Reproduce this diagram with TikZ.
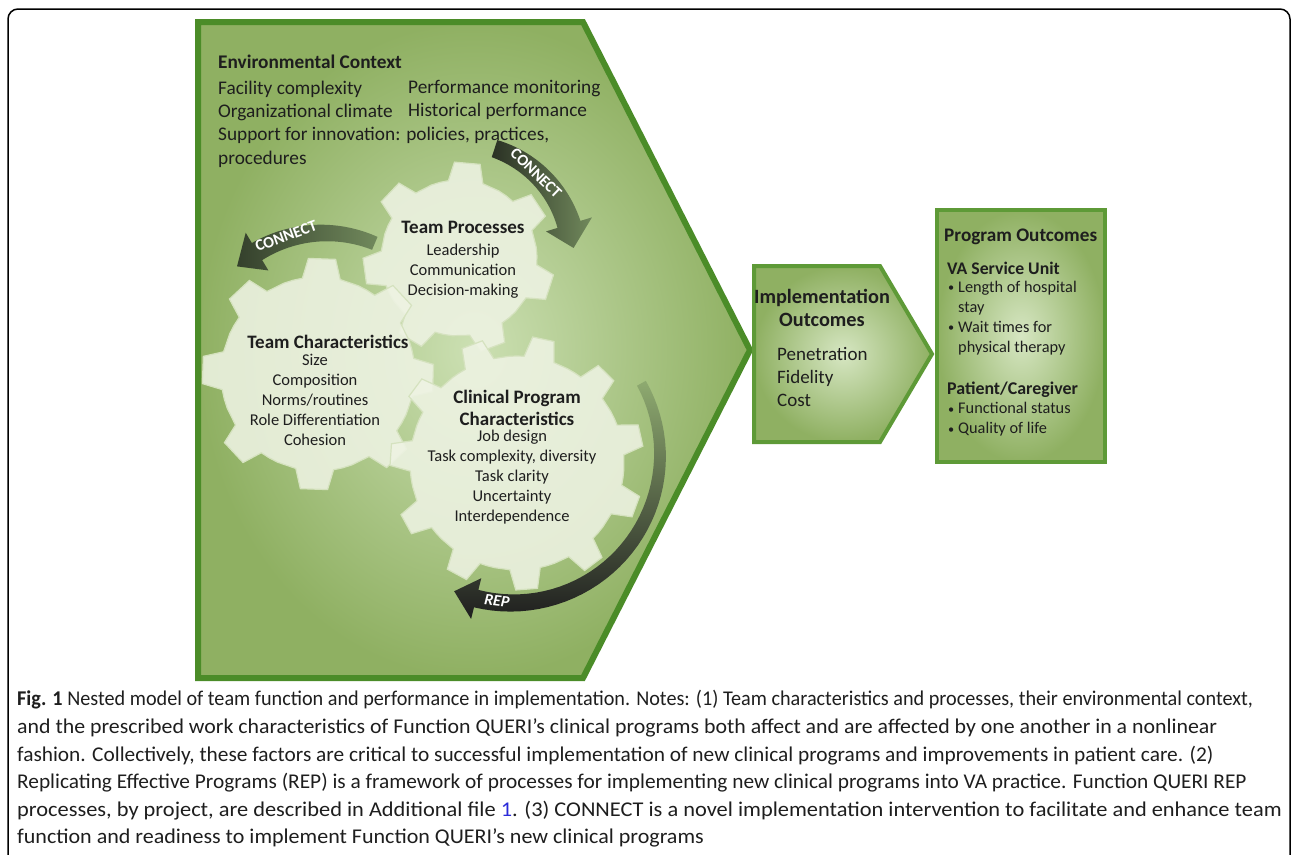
\documentclass[tikz,border=0pt]{standalone}
\usepackage{fontspec}
\setmainfont{Carlito}
\definecolor{bigin}{HTML}{CCE0B3}
\definecolor{bigout}{HTML}{8FB062}
\definecolor{bordergreen}{HTML}{4B8C28}
\definecolor{smallborder}{HTML}{5E9A37}
\definecolor{gearfill}{HTML}{EEF3E3}
\definecolor{gearedge}{HTML}{D5E2BF}
\definecolor{capblue}{HTML}{2B2BD9}
\definecolor{txt}{HTML}{1E1E1E}
\definecolor{arrdark}{HTML}{2A3124}
\definecolor{arrmid}{HTML}{34402C}
\definecolor{arrlight}{HTML}{71895C}
\definecolor{arrgreen}{HTML}{8EAA70}
\newcommand\blt{\makebox[10pt][l]{\raisebox{0.6pt}{\scalebox{0.75}{•}}}}
\newcommand\gearpath[6]{% cx cy N Ri Ro offset
  \pgfmathsetmacro\gp{360/#3}%
  \pgfmathtruncatemacro\gN{#3-1}%
  \filldraw[fill=gearfill, fill opacity=0.88, draw=gearedge, line width=1.2pt] ({#1+#4*cos(#6-0.5*\gp)},{#2+#4*sin(#6-0.5*\gp)})
    \foreach \k in {0,...,\gN}{
      -- ({#1+#4*cos(#6+\k*\gp-0.25*\gp)},{#2+#4*sin(#6+\k*\gp-0.25*\gp)})
      -- ({#1+#5*cos(#6+\k*\gp-0.15*\gp)},{#2+#5*sin(#6+\k*\gp-0.15*\gp)})
      -- ({#1+#5*cos(#6+\k*\gp+0.15*\gp)},{#2+#5*sin(#6+\k*\gp+0.15*\gp)})
      -- ({#1+#4*cos(#6+\k*\gp+0.25*\gp)},{#2+#4*sin(#6+\k*\gp+0.25*\gp)})
      -- ({#1+#4*cos(#6+\k*\gp+0.375*\gp)},{#2+#4*sin(#6+\k*\gp+0.375*\gp)})
      -- ({#1+#4*cos(#6+\k*\gp+0.5*\gp)},{#2+#4*sin(#6+\k*\gp+0.5*\gp)})
    } -- cycle;
}
\newcommand\arrowpath[9]{% cx cy r a1 a2 atip w1 w2 hw
  plot[domain=#4:#5, samples=40, variable=\t]
    ({#1+(#3+#7+(#8-#7)*(\t-(#4))/((#5)-(#4)))*cos(\t)},{#2+(#3+#7+(#8-#7)*(\t-(#4))/((#5)-(#4)))*sin(\t)})
  -- ({#1+(#3+#9)*cos(#5)},{#2+(#3+#9)*sin(#5)})
  -- ({#1+#3*cos(#6)},{#2+#3*sin(#6)})
  -- ({#1+(#3-#9)*cos(#5)},{#2+(#3-#9)*sin(#5)})
  -- plot[domain=#5:#4, samples=40, variable=\t]
    ({#1+(#3-#7-(#8-#7)*(\t-(#4))/((#5)-(#4)))*cos(\t)},{#2+(#3-#7-(#8-#7)*(\t-(#4))/((#5)-(#4)))*sin(\t)})
  -- cycle}
\begin{document}
\begin{tikzpicture}[x=1pt,y=1pt,
  txtnode/.style={inner sep=0pt, text=txt},
  envtext/.style={txtnode, font=\fontsize{19.3}{23.3}\selectfont, align=left, anchor=west},
  geartitle/.style={txtnode, font=\fontsize{19}{22}\selectfont\bfseries, align=center},
  gearlist/.style={txtnode, font=\fontsize{16.5}{20}\selectfont, align=center},
  arrowlabel/.style={inner sep=0pt, text=white, font=\fontsize{16}{16}\selectfont\bfseries},
  captext/.style={inner sep=0pt, anchor=west, text=txt, font=\fontsize{21}{24}\selectfont},
  bulletlist/.style={txtnode, anchor=west, align=left, font=\fontsize{16.3}{20}\selectfont}
]
\useasboundingbox (0,0) rectangle (1292,-854);
% outer frame
\draw[black, line width=1.5pt, rounded corners=10pt] (8,-860) -- (8,-9) -- (1290,-9) -- (1290,-860);

% big pentagon
\shade[inner color=bigin, outer color=bigout] (198,-22) -- (583,-22) -- (750,-350) -- (583,-678) -- (198,-678) -- cycle;
\draw[bordergreen, line width=6pt, line join=miter] (198,-22) -- (583,-22) -- (750,-350) -- (583,-678) -- (198,-678) -- cycle;

% implementation pentagon
\shade[inner color=bigin!80!white, outer color=bigout] (754,-266) -- (880,-266) -- (932,-354) -- (880,-442) -- (754,-442) -- cycle;
\draw[smallborder, line width=4pt] (754,-266) -- (880,-266) -- (932,-354) -- (880,-442) -- (754,-442) -- cycle;

% program outcomes rectangle
\shade[inner color=bigin!80!white, outer color=bigout] (937,-210) rectangle (1105,-462);
\draw[smallborder, line width=4pt] (937,-210) rectangle (1105,-462);

% environmental context
\node[txtnode, anchor=west, font=\fontsize{19.3}{22}\selectfont\bfseries] (envtitle) at (218,-62) {Environmental Context};
\node[envtext] (envleft) at (218,-124) {Facility complexity\\Organizational climate\\Support for innovation: policies, practices,\\procedures};
\node[envtext] (envright) at (408,-100) {Performance monitoring\\Historical performance};

% gears
\gearpath{459}{-258}{7}{78}{96}{85}
\gearpath{318}{-374}{8}{97}{116}{88}
\gearpath{517}{-463}{11}{107}{127}{78}

% arrows
\shade[left color=arrdark, right color=arrlight] \arrowpath{459}{-258}{115}{72}{17}{5}{9}{12}{24};
\shade[left color=arrmid, right color=arrlight] \arrowpath{324}{-363}{130}{67}{121}{132}{7}{10}{22};
\shade[top color=arrgreen, bottom color=black!88] \arrowpath{512}{-455}{148}{29}{-104}{-113}{5}{9}{21};

\node[arrowlabel, rotate=-44] (lab1) at (536,-173) {CONNECT};
\node[arrowlabel, rotate=20] (lab2) at (286,-236) {CONNECT};
\node[arrowlabel, rotate=-7, font=\fontsize{16}{16}\selectfont\bfseries\itshape] (lab3) at (497,-601) {REP};

% gear texts
\node[geartitle] (tptitle) at (463,-227) {Team Processes};
\node[gearlist] (tplist) at (463,-271) {Leadership\\Communication\\Decision-making};
\node[geartitle] (tctitle) at (328,-342) {Team Characteristics};
\node[gearlist] (tclist) at (315,-400) {Size\\Composition\\Norms/routines\\Role Differentiation\\Cohesion};
\node[geartitle] (cptitle) at (517,-408) {Clinical Program\\Characteristics};
\node[gearlist] (cplist) at (512,-477) {Job design\\Task complexity, diversity\\Task clarity\\Uncertainty\\Interdependence};

% implementation outcomes
\node[txtnode, font=\fontsize{20.3}{23}\selectfont\bfseries, align=center] (imptitle) at (822,-308) {Implementation\\Outcomes};
\node[txtnode, font=\fontsize{19}{23}\selectfont, align=left, anchor=west] (implist) at (777,-377) {Penetration\\Fidelity\\Cost};

% program outcomes
\node[txtnode, anchor=west, font=\fontsize{19.2}{20}\selectfont\bfseries] (progtitle) at (944,-237) {Program Outcomes};
\node[txtnode, anchor=west, font=\fontsize{17.7}{20}\selectfont\bfseries] (vatitle) at (947,-268) {VA Service Unit};
\node[bulletlist] (valist) at (948,-318) {\blt Length of hospital\\\hspace*{10pt}stay\\\blt Wait times for\\\hspace*{10pt}physical therapy};
\node[txtnode, anchor=west, font=\fontsize{17.9}{20}\selectfont\bfseries] (pctitle) at (947,-390) {Patient/Caregiver};
\node[bulletlist] (pclist) at (948,-419.5) {\blt Functional status\\\blt Quality of life};

% caption
\node[captext] (cap1) at (17,-700) {\scalebox{0.962}[1]{\textbf{Fig. 1} Nested model of team function and performance in implementation. Notes: (1) Team characteristics and processes, their environmental context,}};
\node[captext] (cap2) at (17,-727.6) {\scalebox{1.04}[1]{and the prescribed work characteristics of Function QUERI’s clinical programs both affect and are affected by one another in a nonlinear}};
\node[captext] (cap3) at (17,-755.2) {\scalebox{1.017}[1]{fashion. Collectively, these factors are critical to successful implementation of new clinical programs and improvements in patient care. (2)}};
\node[captext] (cap4) at (17,-782.8) {\scalebox{1.016}[1]{Replicating Effective Programs (REP) is a framework of processes for implementing new clinical programs into VA practice. Function QUERI REP}};
\node[captext] (cap5) at (17,-810.4) {\scalebox{1.066}[1]{processes, by project, are described in Additional file \textcolor{capblue}{1}. (3) CONNECT is a novel implementation intervention to facilitate and enhance team}};
\node[captext] (cap6) at (17,-838) {\scalebox{1.049}[1]{function and readiness to implement Function QUERI’s new clinical programs}};
\end{tikzpicture}
\end{document}
